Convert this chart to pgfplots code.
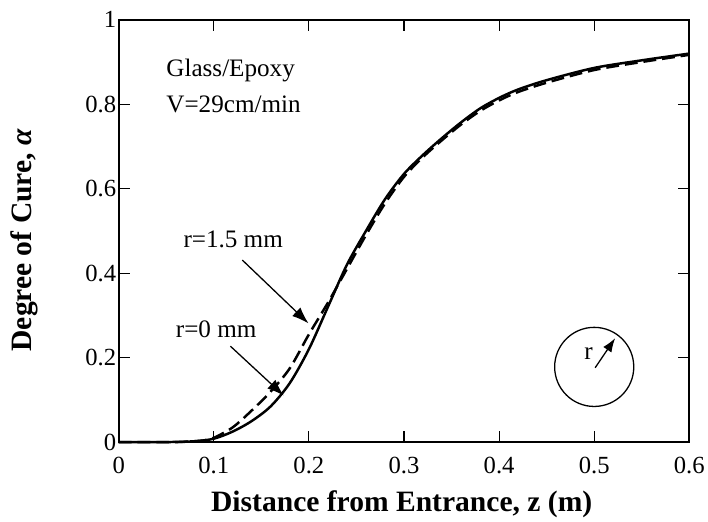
\documentclass[border=0pt]{standalone}
\usepackage{fontspec}
\setmainfont{Liberation Serif}
\usepackage{pgfplots}
\pgfplotsset{compat=1.18}
\usetikzlibrary{arrows.meta}

\begin{document}
\begin{tikzpicture}[x=1bp,y=1bp]
\begin{axis}[
  name=main,
  scale only axis,
  width=577bp, height=427bp,
  xmin=0, xmax=0.6, ymin=0, ymax=1,
  xtick={0,0.1,...,0.6},
  ytick={0,0.2,...,1},
  tick align=inside,
  major tick length=11bp,
  axis line style={line width=1.8bp},
  every tick/.style={black, line width=1.1bp},
  /pgf/number format/assume math mode=true,
  /pgf/number format/fixed,
  ticklabel style={font=\fontsize{25}{27}\selectfont},
  xticklabel style={yshift=-12bp},
  yticklabel style={xshift=1bp},
  xlabel={\textbf{Distance from Entrance, z (m)}},
  ylabel={\textbf{Degree of Cure, \textit{α}}},
  xlabel style={at={(axis description cs:0.496,-0.1475)}, anchor=center},
  ylabel style={at={(axis description cs:-0.1646,0.478)}, anchor=center},
  label style={font=\fontsize{30}{32}\selectfont},
  clip=false,
]
% r = 0 mm (solid)
\addplot[black, line width=2.5bp, smooth] coordinates {
  (0,0) (0.05,0) (0.08,0.002) (0.1,0.008) (0.12,0.025) (0.14,0.05)
  (0.16,0.085) (0.18,0.14) (0.2,0.22) (0.22,0.32) (0.24,0.42)
  (0.26,0.5) (0.28,0.575) (0.3,0.635) (0.32,0.68) (0.34,0.72)
  (0.36,0.757) (0.38,0.79) (0.4,0.815) (0.42,0.835) (0.45,0.857)
  (0.5,0.886) (0.55,0.904) (0.6,0.92)
};
% r = 1.5 mm (dashed)
\addplot[black, line width=2.5bp, smooth, dash pattern=on 13bp off 6bp] coordinates {
  (0,0) (0.06,0) (0.09,0.004) (0.1,0.01) (0.12,0.035) (0.14,0.075)
  (0.16,0.12) (0.18,0.175) (0.2,0.255) (0.22,0.33) (0.24,0.41)
  (0.26,0.49) (0.28,0.565) (0.3,0.628) (0.32,0.675) (0.34,0.715)
  (0.36,0.752) (0.38,0.784) (0.4,0.809) (0.42,0.829) (0.45,0.851)
  (0.5,0.881) (0.55,0.9) (0.6,0.917)
};
\node[anchor=west, inner sep=0pt, font=\fontsize{25.5}{27}\selectfont] at (axis cs:0.050,0.88) {Glass/Epoxy};
\node[anchor=west, inner sep=0pt, font=\fontsize{25.5}{27}\selectfont] at (axis cs:0.050,0.80) {V=29cm/min};
\node[anchor=west, inner sep=0pt, font=\fontsize{25.5}{27}\selectfont] at (axis cs:0.068,0.48) {r=1.5 mm};
\node[anchor=west, inner sep=0pt, font=\fontsize{25.5}{27}\selectfont] at (axis cs:0.060,0.268) {r=0 mm};
\draw[line width=1.3bp, -{Latex[length=17bp,width=12bp]}] (axis cs:0.130,0.431) -- (axis cs:0.1996,0.281);
\draw[line width=1.3bp, -{Latex[length=17bp,width=12bp]}] (axis cs:0.1175,0.227) -- (axis cs:0.1736,0.11);
\draw[line width=1.3bp] (axis cs:0.5,0.178) circle[radius=40bp];
\node[font=\fontsize{25.5}{27}\selectfont] at (axis cs:0.494,0.21) {r};
\draw[line width=1.3bp, -{Latex[length=14bp,width=10bp]}] (axis cs:0.501,0.176) -- (axis cs:0.522,0.246);
\end{axis}
\path (main.south west) ++(-120bp,-80bp) rectangle ++(708bp,527bp);
\end{tikzpicture}
\end{document}
